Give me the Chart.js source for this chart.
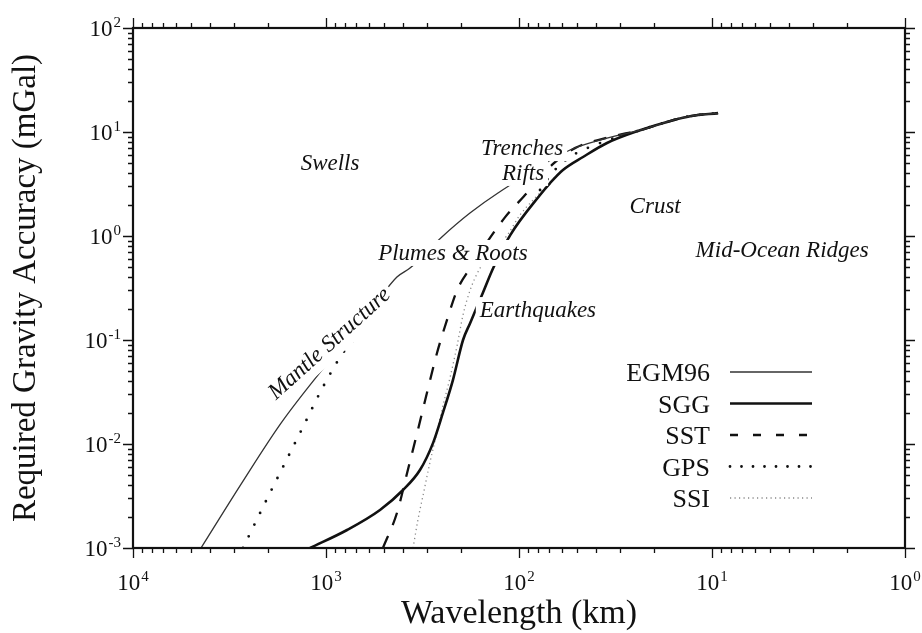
<!DOCTYPE html>
<html>
<head>
<meta charset="utf-8">
<script src="https://cdn.jsdelivr.net/npm/chart.js@4/dist/chart.umd.min.js"></script>
<style>
  html, body { margin: 0; padding: 0; background: #fff; }
  canvas { display: block; }
</style>
</head>
<body>
<canvas id="chart" width="922" height="633"></canvas>
<script>
// Required gravity accuracy (mGal) versus wavelength (km) for each gravity mission.
const egm96Wavelength = [4444, 2754, 1710, 1049, 667, 429, 367, 251, 179.5, 128.5, 54.4, 38, 23.6, 15.9, 13.0, 9.3];
const egm96Accuracy   = [0.001, 0.00412, 0.0159, 0.0515, 0.139, 0.403, 0.492, 0.977, 1.66, 2.59, 6.71, 8.38, 10.4, 13.0, 14.2, 15.2];

const sggWavelength = [1210, 778, 525, 399, 326, 279, 248, 220, 195, 179, 154, 136, 111, 77.8, 69, 59.2, 46.6, 35, 23.6, 15.9, 13.0, 9.3];
const sggAccuracy   = [0.001, 0.00149, 0.00232, 0.00361, 0.00562, 0.0102, 0.0199, 0.0412, 0.1, 0.146, 0.283, 0.492, 1.02, 2.48, 3.23, 4.31, 5.75, 7.84, 10.4, 13.0, 14.2, 15.2];

const sstWavelength = [507, 429, 380, 337, 300, 266, 236, 209, 179, 118, 95, 67.5, 51.3, 33.7, 23.6, 15.9, 13.0, 9.3];
const sstAccuracy   = [0.001, 0.00217, 0.00526, 0.0128, 0.0309, 0.075, 0.156, 0.303, 0.492, 1.52, 2.37, 4.82, 7.0, 8.96, 10.4, 13.0, 14.2, 15.2];

const gpsWavelength = [2692, 2120, 1671, 1316, 1037, 817, 667, 300, 77.8, 66.7, 54.4, 40.4, 23.6, 15.9, 13.0, 9.3];
const gpsAccuracy   = [0.001, 0.00248, 0.00601, 0.01456, 0.0353, 0.075, 0.1167, null, 2.77, 4.12, 5.75, 7.5, 10.4, 13.0, 14.2, 15.2];

const ssiWavelength = [354, 334, 310, 289, 272, 251, 228, 209, 195, 179, 159, 115, 98.9, 84.5, 70.8, 61.4, 46.6, 35, 23.6, 15.9, 13.0, 9.3];
const ssiAccuracy   = [0.001, 0.00186, 0.00361, 0.00671, 0.0109, 0.0212, 0.0431, 0.0895, 0.174, 0.303, 0.492, 1.02, 1.59, 2.22, 3.09, 4.12, 5.75, 7.84, 10.4, 13.0, 14.2, 15.2];

// Axis decades (powers of ten) used for the labelled ticks.
const xExponents = [4, 3, 2, 1, 0];
const yExponents = [2, 1, 0, -1, -2, -3];

// Geophysical phenomena written inside the plot.
const phenomenaNames = ['Swells', 'Trenches', 'Rifts', 'Crust', 'Mid-Ocean Ridges', 'Plumes & Roots', 'Earthquakes', 'Mantle Structure'];

const phenomenaPlacement = [
  { x: 953,  y: 5.04,   angle: 0,   knockout: false },
  { x: 96.4, y: 7.0,    angle: 0,   knockout: true },
  { x: 95.3, y: 4.04,   angle: 0,   knockout: true },
  { x: 19.7, y: 1.94,   angle: 0,   knockout: false },
  { x: 4.33, y: 0.733,  angle: 0,   knockout: false },
  { x: 220,  y: 0.687,  angle: 0,   knockout: true },
  { x: 79.8, y: 0.194,  angle: 0,   knockout: true },
  { x: 964,  y: 0.0935, angle: -42, knockout: true, pad: 16 }
];

function pairs(xs, ys) {
  return xs.map((x, i) => ({ x: x, y: ys[i] }));
}

const SERIF = "'Liberation Serif', 'Times New Roman', serif";
const INK = '#111';

// Superscripted power-of-ten label: "10" followed by a raised exponent.
function drawPower(ctx, exp, x, yMid, align) {
  const base = '10';
  const sup = String(exp);
  ctx.font = '23px ' + SERIF;
  const w1 = ctx.measureText(base).width;
  ctx.font = '15px ' + SERIF;
  const w2 = ctx.measureText(sup).width;
  const total = w1 + 1 + w2;
  const x0 = align === 'center' ? x - total / 2 : x - total;
  const baseline = yMid + 8;
  ctx.textBaseline = 'alphabetic';
  ctx.textAlign = 'left';
  ctx.font = '23px ' + SERIF;
  ctx.fillText(base, x0, baseline);
  ctx.font = '15px ' + SERIF;
  ctx.fillText(sup, x0 + w1 + 1, baseline - 9);
}

// Frame, outward ticks on all four sides and power-of-ten tick labels.
const framePlugin = {
  id: 'frameTicks',
  afterDraw(chart) {
    const { ctx, chartArea, scales } = chart;
    const { left, right, top, bottom } = chartArea;
    const xs = scales.x, ys = scales.y;
    ctx.save();
    ctx.strokeStyle = INK;
    ctx.fillStyle = INK;

    ctx.lineWidth = 1.3;
    ctx.beginPath();
    for (let e = 0; e < 4; e++) {
      for (let m = 1; m <= 10; m++) {
        const v = m * Math.pow(10, e);
        const px = Math.round(xs.getPixelForValue(v)) + 0.5;
        const len = (m === 1 || m === 10) ? 10 : 5;
        ctx.moveTo(px, bottom); ctx.lineTo(px, bottom + len);
        ctx.moveTo(px, top); ctx.lineTo(px, top - len);
      }
    }
    for (let e = -3; e < 2; e++) {
      for (let m = 1; m <= 10; m++) {
        const v = m * Math.pow(10, e);
        const py = Math.round(ys.getPixelForValue(v)) + 0.5;
        const len = (m === 1 || m === 10) ? 10 : 5;
        ctx.moveTo(left, py); ctx.lineTo(left - len, py);
        ctx.moveTo(right, py); ctx.lineTo(right + len, py);
      }
    }
    ctx.stroke();

    ctx.lineWidth = 2.2;
    ctx.strokeRect(left, top, right - left, bottom - top);

    xExponents.forEach(e => {
      drawPower(ctx, e, xs.getPixelForValue(Math.pow(10, e)), bottom + 34, 'center');
    });
    yExponents.forEach(e => {
      drawPower(ctx, e, left - 12, ys.getPixelForValue(Math.pow(10, e)), 'right');
    });
    ctx.restore();
  }
};

// Phenomenon names, each on a white patch that interrupts the curves beneath it.
const phenomenaPlugin = {
  id: 'phenomena',
  afterDatasetsDraw(chart) {
    const { ctx, scales } = chart;
    ctx.save();
    ctx.font = 'italic 23px ' + SERIF;
    ctx.textAlign = 'center';
    ctx.textBaseline = 'middle';
    phenomenaNames.forEach((name, i) => {
      const p = phenomenaPlacement[i];
      const px = scales.x.getPixelForValue(p.x);
      const py = scales.y.getPixelForValue(p.y);
      const w = ctx.measureText(name).width;
      const half = p.pad || 13;
      ctx.save();
      ctx.translate(px, py);
      ctx.rotate(p.angle * Math.PI / 180);
      if (p.knockout) {
        ctx.fillStyle = '#fff';
        ctx.fillRect(-w / 2 - 4, -half, w + 8, half * 2);
      }
      ctx.fillStyle = INK;
      ctx.fillText(name, 0, 1);
      ctx.restore();
    });
    ctx.restore();
  }
};

// Key with right-aligned names and line samples to their right.
const keyPlugin = {
  id: 'seriesKey',
  afterDraw(chart) {
    const { ctx, chartArea } = chart;
    const textRight = chartArea.left + 577;
    const lineStart = textRight + 20;
    const lineEnd = textRight + 102;
    const firstRow = chartArea.top + 344;
    const step = 31.5;
    ctx.save();
    ctx.font = '26px ' + SERIF;
    ctx.textAlign = 'right';
    ctx.textBaseline = 'alphabetic';
    chart.data.datasets.forEach((ds, i) => {
      const y = firstRow + i * step;
      ctx.fillStyle = INK;
      ctx.fillText(ds.label, textRight, y + 9);
      ctx.strokeStyle = ds.borderColor;
      ctx.lineWidth = ds.borderWidth;
      ctx.lineCap = ds.borderCapStyle || 'butt';
      ctx.setLineDash(ds.keyDash || ds.borderDash || []);
      ctx.beginPath();
      ctx.moveTo(lineStart, y);
      ctx.lineTo(lineEnd, y);
      ctx.stroke();
    });
    ctx.restore();
  }
};

const common = { pointRadius: 0, pointHoverRadius: 0, cubicInterpolationMode: 'monotone', fill: false, spanGaps: false };

new Chart(document.getElementById('chart'), {
  type: 'line',
  data: {
    datasets: [
      Object.assign({ label: 'EGM96', data: pairs(egm96Wavelength, egm96Accuracy),
        borderColor: '#333', borderWidth: 1.3 }, common),
      Object.assign({ label: 'SGG', data: pairs(sggWavelength, sggAccuracy),
        borderColor: INK, borderWidth: 2.6 }, common),
      Object.assign({ label: 'SST', data: pairs(sstWavelength, sstAccuracy),
        borderColor: INK, borderWidth: 2.3, borderDash: [13, 12], keyDash: [8, 15] }, common),
      Object.assign({ label: 'GPS', data: pairs(gpsWavelength, gpsAccuracy),
        borderColor: INK, borderWidth: 2.8, borderDash: [0, 13], keyDash: [0, 11.5], borderCapStyle: 'round' }, common),
      Object.assign({ label: 'SSI', data: pairs(ssiWavelength, ssiAccuracy),
        borderColor: '#888', borderWidth: 1.3, borderDash: [1.2, 3.3] }, common)
    ]
  },
  options: {
    responsive: false,
    animation: false,
    events: [],
    layout: { padding: { top: 28, right: 17, left: 0, bottom: 0 } },
    plugins: {
      legend: { display: false },
      tooltip: { enabled: false }
    },
    scales: {
      x: {
        type: 'logarithmic',
        reverse: true,
        min: 1,
        max: 10000,
        grid: { display: false, drawTicks: false },
        border: { display: false },
        ticks: { display: false },
        title: {
          display: true,
          text: 'Wavelength (km)',
          color: INK,
          font: { family: SERIF, size: 34, lineHeight: 1 },
          padding: { top: 49, bottom: 2 }
        }
      },
      y: {
        type: 'logarithmic',
        min: 0.001,
        max: 100,
        grid: { display: false, drawTicks: false },
        border: { display: false },
        ticks: { display: false },
        title: {
          display: true,
          text: 'Required Gravity Accuracy (mGal)',
          color: INK,
          font: { family: SERIF, size: 33, lineHeight: 1 },
          padding: { top: 9.5, bottom: 90.5 }
        }
      }
    }
  },
  plugins: [phenomenaPlugin, framePlugin, keyPlugin]
});
</script>
</body>
</html>
